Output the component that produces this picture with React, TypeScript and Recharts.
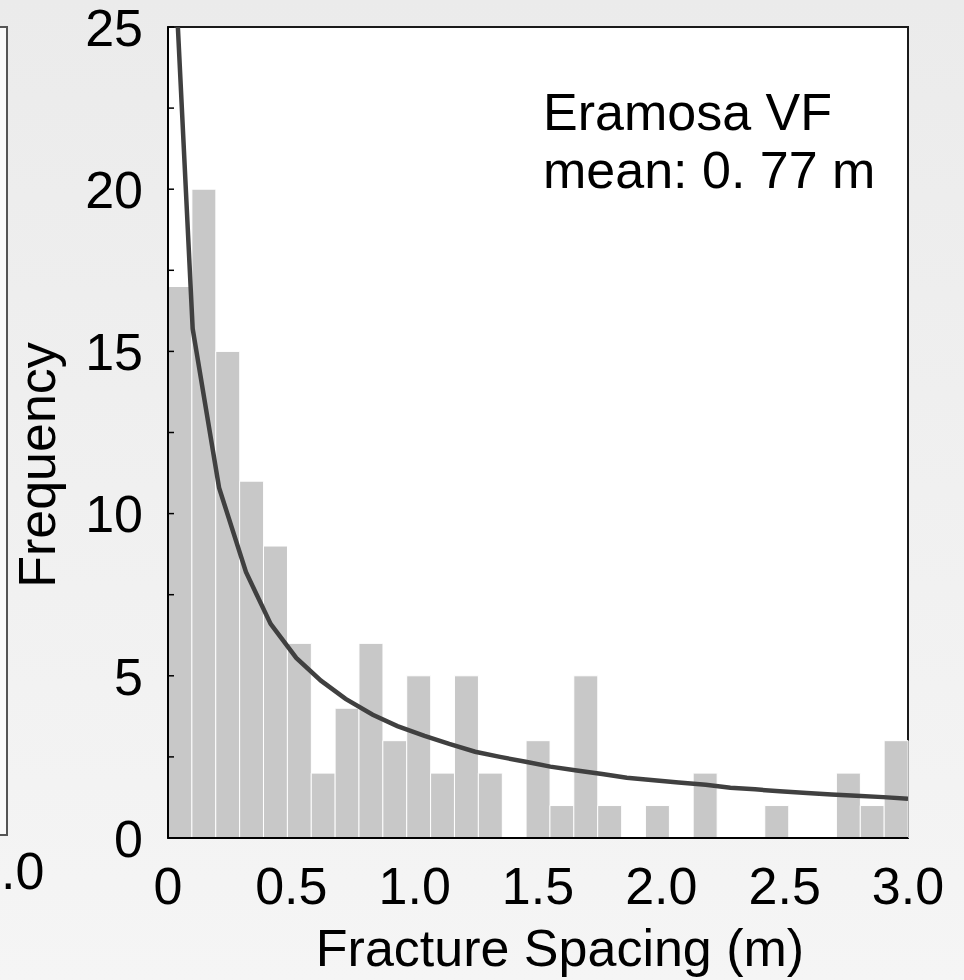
import React from 'react'
import {
  ComposedChart,
  Bar,
  Line,
  XAxis,
  YAxis,
  CartesianGrid,
  ReferenceArea
} from 'recharts'

// histogram counts, 31 bins spanning 0 - 3.0 m
const counts = [17, 20, 15, 11, 9, 6, 2, 4, 6, 3, 5, 2, 5, 2, 0, 3, 1, 5, 1, 0, 1, 0, 2, 0, 0, 1, 0, 0, 2, 1, 3]

// fitted curve
const fitX = [0, 0.1, 0.207, 0.316, 0.416, 0.52, 0.62, 0.72, 0.83, 0.93, 1.04, 1.14, 1.245, 1.346, 1.45, 1.55, 1.657, 1.76, 1.86, 1.97, 2.07, 2.18, 2.28, 2.38, 2.48, 2.59, 2.69, 2.79, 2.9, 3.0]
const fitY = [31.2, 15.7, 10.8, 8.2, 6.6, 5.55, 4.85, 4.29, 3.8, 3.45, 3.15, 2.9, 2.66, 2.5, 2.35, 2.2, 2.08, 1.97, 1.86, 1.78, 1.71, 1.64, 1.55, 1.5, 1.44, 1.39, 1.34, 1.3, 1.26, 1.21]

const yTicks = [0, 2.5, 5, 7.5, 10, 12.5, 15, 17.5, 20, 22.5, 25]
const xTicks = [0, 0.5, 1.0, 1.5, 2.0, 2.5, 3.0]

const FONT = '"Liberation Sans", Arial, sans-serif'

const barData = counts.map((c, i) => ({ bin: i, count: c }))
const fitData = fitX.map((x, i) => ({ x, y: fitY[i] }))

// eslint-disable-next-line @typescript-eslint/no-explicit-any
const YTick = (props: any) => {
  const { y, payload } = props
  if (payload.value % 5 !== 0) return null
  return (
    <text x={143} y={y} dy="0.36em" textAnchor="end" fontSize={52} fontFamily={FONT} fill="#000">
      {payload.value}
    </text>
  )
}

// eslint-disable-next-line @typescript-eslint/no-explicit-any
const XTick = (props: any) => {
  const { x, payload } = props
  const label = payload.value === 0 ? '0' : payload.value.toFixed(1)
  return (
    <text x={x} y={904} textAnchor="middle" fontSize={52} fontFamily={FONT} fill="#000">
      {label}
    </text>
  )
}

export default function App() {
  return (
    <div
      style={{
        position: 'absolute',
        left: 0,
        top: 0,
        width: 964,
        height: 980,
        overflow: 'hidden',
        background: 'linear-gradient(#ebebeb, #f5f5f5)'
      }}
    >
      {/* edge of the neighbouring panel */}
      <svg width={964} height={980} style={{ position: 'absolute', left: 0, top: 0 }}>
        <rect x={-4} y={27} width={11} height={808} fill="#fafafa" stroke="#555" strokeWidth={2} />
        <text x={1} y={889} fontSize={52} fontFamily={FONT} fill="#000">.0</text>
      </svg>

      <div style={{ position: 'absolute', left: 0, top: 0 }}>
        <ComposedChart
          width={964}
          height={980}
          data={barData}
          margin={{ top: 27, right: 56, bottom: 0, left: 0 }}
          barCategoryGap={0}
        >
          <CartesianGrid horizontal={false} vertical={false} fill="#fff" stroke="none" />
          <XAxis xAxisId="cat" dataKey="bin" type="category" hide height={0} />
          <XAxis
            xAxisId="num"
            type="number"
            dataKey="x"
            domain={[0, 3]}
            ticks={xTicks}
            allowDataOverflow
            height={142}
            tickLine={false}
            tickSize={0}
            axisLine={{ stroke: '#000', strokeWidth: 2 }}
            tick={<XTick />}
          />
          <YAxis
            type="number"
            domain={[0, 25]}
            ticks={yTicks}
            allowDataOverflow
            width={168}
            tickSize={-6}
            tickMargin={31}
            tickLine={{ stroke: '#000', strokeWidth: 1.5 }}
            axisLine={{ stroke: '#000', strokeWidth: 2 }}
            tick={<YTick />}
          />
          <Bar
            xAxisId="cat"
            dataKey="count"
            fill="#c8c8c8"
            stroke="#fff"
            strokeWidth={1}
            isAnimationActive={false}
          />
          <Line
            xAxisId="num"
            data={fitData}
            dataKey="y"
            type="linear"
            stroke="#404040"
            strokeWidth={4.5}
            dot={false}
            activeDot={false}
            isAnimationActive={false}
          />
          <ReferenceArea
            xAxisId="num"
            x1={0}
            x2={3}
            y1={0}
            y2={25}
            fill="none"
            stroke="#1a1a1a"
            strokeWidth={2}
            fillOpacity={0}
          />
        </ComposedChart>
      </div>

      {/* titles and annotation */}
      <svg width={964} height={980} style={{ position: 'absolute', left: 0, top: 0, pointerEvents: 'none' }}>
        <text x={543} y={130} fontSize={52} fontFamily={FONT} fill="#000">Eramosa VF</text>
        <text x={543} y={188} fontSize={52} fontFamily={FONT} fill="#000">mean: 0. 77 m</text>
        <text
          transform="translate(55,465) rotate(-90)"
          textAnchor="middle"
          fontSize={52}
          fontFamily={FONT}
          fill="#000"
        >
          Frequency
        </text>
        <text x={560} y={966} textAnchor="middle" fontSize={52} fontFamily={FONT} fill="#000">
          Fracture Spacing (m)
        </text>
      </svg>
    </div>
  )
}
